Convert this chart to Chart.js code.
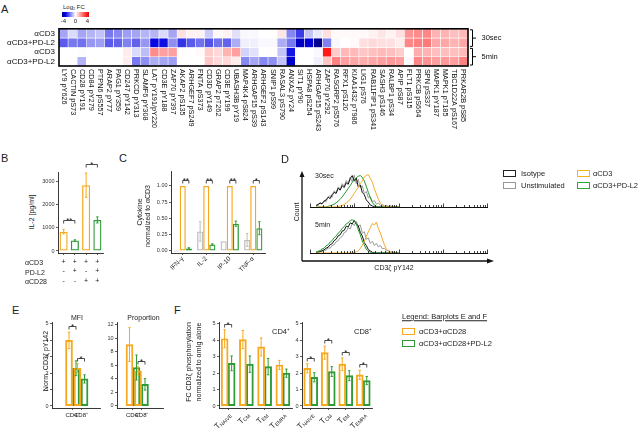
<!DOCTYPE html>
<html>
<head>
<meta charset="utf-8">
<script src="https://cdn.jsdelivr.net/npm/chart.js@4.4.1/dist/chart.umd.min.js"></script>
<style>
  html, body { margin: 0; padding: 0; background: #fff; }
  #fig { position: relative; width: 640px; height: 429px; overflow: hidden; font-family: "Liberation Sans", Arial, sans-serif; color: #222; }
  #fig canvas { position: absolute; }
  .t { position: absolute; white-space: nowrap; line-height: 1; }
  .t sub { font-size: 65%; vertical-align: -1px; line-height: 0; }
  .sw { position: absolute; width: 13px; height: 7px; box-sizing: border-box; border: 1.5px solid; }
  .cbar { position: absolute; left: 62px; top: 12px; width: 27px; height: 5px;
          background: linear-gradient(to right, #000096 0%, #0000e6 12%, #ffffff 50%, #ff3030 88%, #e00000 100%); }
</style>
</head>
<body>
<div id="fig"></div>
<script>
// ---------- data ----------
// A: heatmap, log2 fold change
const hmRows = ['αCD3', 'αCD3+PD-L2', 'αCD3', 'αCD3+PD-L2'];
const hmTimes = ['30sec', '5min'];
const hmCols = ['LY9 pY626', 'CACTIN pS73', 'CD28 pY191', 'CD84 pY279', 'PTPN6 pS557', 'ARAP2 pY77', 'PAG1 pY359',
  'CD247 pY142', 'PRKCD pY313', 'SLAMF6 pY308', 'LAT pY191/pY220', 'CD3E pY188', 'ZAP70 pY397', 'AKAP2 pS135',
  'ARHGEF7 pS249', 'FNTA pS373', 'CD3D pY149', 'GRAP2 pT262', 'CD3E pY199', 'UBASH3B pY19', 'MAP4K4 pS824',
  'ARHGAP15 pS39', 'ARHGEF2 pS143', 'SNIP1 pS99', 'RASAL3 pS790', 'ANXA2 pY24', 'SIT1 pY90', 'HSPA8 pS254',
  'ARHGAP15 pS243', 'ZAP70 pY292', 'RASGRP2 pS576', 'RFX1 pS120', 'KIAA1432 pT986', 'LIG1 pS76',
  'RAB11FIP1 pS341', 'SASH3 pS146', 'RALBP1 pS34', 'APIP pS87', 'FLT1 pS315', 'PRKCB pS664', 'SPN pS337',
  'MAPK1 pY187', 'MAPK1 pT185', 'TBC1D22A pS167', 'PRKAR2B pS85'];
const fcCD3_30s = [-1.2, -0.5, -1.2, -1.0, -0.8, -1.8, -1.6, -1.3, -1.2, -1.0, -1.0, -0.5, -1.2, 0.5, 0.2, 0.2, -0.7, 0.1, 0.2, -0.4,
  -0.1, -0.1, 0, 0, 0.4, -1.6, -2.6, -0.8, -0.3, 0.5, 0.1, 0.1, 0.1, 0.1, 0.2, 0.4, 0.2, 0.5, 1.7, 1.8, 1.9, 1.2, 1.2, 1.0, 1.1];
const fcPDL2_30s = [-2.2, -1.8, -1.9, -1.4, -1.3, -2.2, -2.1, -1.7, -2.1, -1.4, -3.3, -3.2, -1.5, -2.7, -2.2, -1.9, -2.3, -1.9, -2.1, -1.1,
  -0.2, -0.2, -0.1, -0.1, -1.1, -1.8, -3.7, -3.5, -4.2, -1.7, -0.1, 0, 0.1, 0.5, 0.6, 0.5, 0.5, 0.3, 1.9, 2.0, 2.1, 1.4, 1.4, 1.2, 1.4];
const fcCD3_5m = [0, 0, 0.05, 0, 0, 0, 0, 0.3, -0.5, -0.9, 1.8, 1.5, 1.5, 0.05, 0, 0.1, 0.8, 0.6, 1.2, 1.5,
  -0.6, -0.4, 0, 0.05, -0.8, -3.1, 0, 0, -0.1, 3.6, 0.8, 1.1, 1.1, 0.9, 1.0, 1.1, 1.0, 0.8, 0, 1.3, 1.2, 1.0, 1.0, 1.0, 1.1];
const fcPDL2_5m = [0, 0, -1.0, 0, 0, 0, 0, 0.3, -1.8, -1.5, -1.1, -1.2, -1.3, 0, 0, 0, 0.9, 0.6, 0.6, 0.3,
  -1.6, -1.2, -1.6, -1.5, -0.8, -3.6, 0, 0, -0.2, 0.9, 2.0, 1.5, 1.4, 1.3, 1.4, 1.5, 1.6, 1.5, -0.1, 1.9, 1.7, 1.5, 1.6, 1.5, 2.0];
const hmFC = [fcCD3_30s, fcPDL2_30s, fcCD3_5m, fcPDL2_5m];

// B: IL-2 secretion
const il2Conds = [['+', '-', '-'], ['+', '+', '-'], ['+', '-', '+'], ['+', '+', '+']];
const il2Mean = [830, 450, 2820, 1330];
const il2Err = [100, 30, 520, 130];
const il2Ticks = [0, 1000, 2000, 3000];
const il2Sig = [[0, 0, 0, 1, '**'], [0, 2, 0, 3, '*']];

// C: cytokines normalized to aCD3
const cytoCats = ['IFN-γ', 'IL-2', 'IP-10', 'TNF-α'];
const cytoUnstim = [0, 0.30, 0.15, 0.17];
const cytoUnstimErr = [0, 0.15, 0, 0.10];
const cytoCD3 = [1, 1, 1, 1];
const cytoCD3Err = [0, 0, 0, 0];
const cytoPDL2 = [0.04, 0.10, 0.42, 0.35];
const cytoPDL2Err = [0.01, 0.01, 0.04, 0.10];
const cytoTicks = [0, 0.25, 0.5, 0.75, 1.0];
const cytoSig = [[1, 0, 2, 0, '**'], [1, 1, 2, 1, '**'], [1, 2, 2, 2, '**'], [1, 3, 2, 3, '*']];

// D: histograms (x = CD3z pY142 intensity, y = % of max)
const dX = [1.37, 1.52, 1.69, 1.87, 2.08, 2.31, 2.57, 2.85, 3.16, 3.51, 3.90, 4.33, 4.81, 5.34, 5.93, 6.58, 7.31, 8.11, 9.01, 10.0,
  11.1, 12.3, 13.7, 15.2, 16.9, 18.7, 20.8, 23.1, 25.7, 28.5, 31.6, 35.1, 39.0, 43.3, 48.1, 53.4, 59.3, 65.8, 73.1, 81.1, 90.1, 100];
const iso30 = [5, 8, 12, 10, 18, 22, 30, 26, 38, 45, 42, 58, 52, 66, 60, 75, 70, 88, 97, 80,
  90, 62, 68, 45, 38, 22, 15, 6, 3, 1, 0, 0, 0, 0, 0, 0, 0, 0, 0, 0, 0, 0];
const unst30 = [6, 4, 14, 9, 20, 16, 32, 35, 30, 50, 44, 62, 55, 72, 64, 82, 74, 92, 78, 98,
  72, 85, 60, 66, 42, 48, 28, 32, 16, 20, 9, 12, 5, 8, 3, 5, 2, 4, 1, 2, 0, 0];
const cd3_30 = [0, 0, 0, 0, 0, 0, 0, 0, 0, 0, 0, 1, 3, 5, 8, 12, 17, 24, 32, 42,
  52, 60, 74, 80, 93, 97, 100, 88, 76, 56, 40, 24, 12, 5, 2, 0, 0, 0, 0, 0, 0, 0];
const pdl2_30 = [0, 0, 0, 0, 0, 0, 2, 4, 6, 9, 13, 18, 24, 31, 40, 48, 58, 66, 76, 84,
  90, 95, 97, 92, 80, 64, 45, 28, 14, 6, 2, 0, 0, 0, 0, 0, 0, 0, 0, 0, 0, 0];
const iso5 = [1, 3, 4, 7, 9, 14, 17, 24, 27, 36, 40, 50, 53, 64, 66, 78, 76, 88, 85, 95,
  84, 80, 60, 50, 30, 22, 10, 6, 2, 1, 0, 0, 0, 0, 0, 0, 0, 0, 0, 0, 0, 0];
const unst5 = [2, 1, 5, 4, 9, 8, 15, 14, 22, 24, 33, 36, 45, 48, 60, 62, 74, 70, 86, 80,
  92, 78, 82, 58, 62, 40, 44, 28, 34, 22, 28, 18, 22, 12, 14, 6, 8, 3, 4, 1, 0, 0];
const cd3_5 = [0, 0, 0, 0, 0, 0, 0, 0, 0, 0, 0, 0, 0, 0, 0, 0, 0, 0, 0, 1,
  3, 7, 13, 22, 34, 48, 62, 74, 86, 82, 90, 72, 58, 40, 24, 12, 5, 2, 0, 0, 0, 0];
const pdl2_5 = [3, 5, 7, 12, 14, 21, 24, 32, 36, 45, 49, 58, 63, 72, 77, 85, 88, 95, 97, 94,
  87, 68, 53, 35, 23, 11, 6, 2, 0, 0, 0, 0, 0, 0, 0, 0, 0, 0, 0, 0, 0, 0];

// E: CD3z pY142, normalized
const cellCats = ['CD4⁺', 'CD8⁺'];
const mfiCD28 = [4.0, 2.3], mfiCD28Err = [0.5, 0.28];
const mfiPDL2 = [2.3, 1.65], mfiPDL2Err = [0.45, 0.25];
const propCD28 = [9.1, 5.2], propCD28Err = [2.5, 0.6];
const propPDL2 = [5.7, 3.2], propPDL2Err = [1.85, 0.85];
const fcTicks = [0, 1, 2, 3, 4, 5];
const propTicks = [0, 2, 4, 6, 8, 10, 12];
const mfiSig = [[0, 0, 1, 0, '*'], [0, 1, 1, 1, '*']];
const propSig = [[0, 1, 1, 1, '*']];

// F: T cell subsets
const fSubsets = ['NAIVE', 'CM', 'EM', 'EMRA'];
const f4CD28 = [4.1, 4.05, 3.6, 2.5], f4CD28Err = [0.55, 0.55, 0.55, 0.28];
const f4PDL2 = [2.6, 2.55, 2.4, 2.0], f4PDL2Err = [0.45, 0.5, 0.5, 0.25];
const f8CD28 = [2.3, 3.25, 2.55, 1.9], f8CD28Err = [0.28, 0.4, 0.38, 0.28];
const f8PDL2 = [1.75, 2.1, 1.85, 1.55], f8PDL2Err = [0.28, 0.3, 0.3, 0.25];
const f4Sig = [[0, 0, 1, 0, '*']];
const f8Sig = [[0, 0, 1, 0, '*'], [0, 1, 1, 1, '*'], [0, 2, 1, 2, '*'], [0, 3, 1, 3, '*']];

// ---------- style ----------
const FONT = '"Liberation Sans", Arial, sans-serif';
const ORANGE = '#F6A81F', GREEN = '#2E9B38', GREY = '#BEBEBE';
const NOFILL = 'rgba(255,255,255,0)';

Chart.defaults.font.family = FONT;
Chart.defaults.font.size = 5.5;
Chart.defaults.color = '#333';
Chart.defaults.animation = false;
Chart.defaults.responsive = false;
Chart.defaults.events = [];
Chart.defaults.plugins.legend.display = false;
Chart.defaults.plugins.tooltip.enabled = false;

const fig = document.getElementById('fig');

function addCanvas(x, y, w, h) {
  const c = document.createElement('canvas');
  c.width = w; c.height = h;
  c.style.left = x + 'px'; c.style.top = y + 'px';
  fig.appendChild(c);
  return c;
}

function txt(html, x, y, size, align, rot) {
  const d = document.createElement('div');
  d.className = 't';
  d.innerHTML = html;
  d.style.left = x + 'px'; d.style.top = y + 'px';
  d.style.fontSize = size + 'px';
  const ax = { l: '0', c: '-50%', r: '-100%' }[align || 'l'];
  d.style.transform = 'translate(' + ax + ',-50%)' + (rot ? ' rotate(' + rot + 'deg)' : '');
  fig.appendChild(d);
  return d;
}

function swatch(x, y, color) {
  const d = document.createElement('div');
  d.className = 'sw';
  d.style.left = x + 'px'; d.style.top = y + 'px';
  d.style.borderColor = color;
  fig.appendChild(d);
}

function fcColor(v) {
  if (v < 0) {
    const t = Math.min(1, -v / 3.4);
    const c = Math.round(255 * (1 - t));
    const b = v < -3.4 ? Math.round(225 - (Math.min(4.5, -v) - 3.4) * 100) : 255 - Math.round(30 * t);
    return 'rgb(' + c + ',' + c + ',' + b + ')';
  }
  const c = Math.round(255 * (1 - Math.min(1, v / 4)));
  return 'rgb(255,' + c + ',' + c + ')';
}

function yAxis(min, max, ticks, w, fmt) {
  return {
    type: 'linear', min: min, max: max,
    afterBuildTicks: s => { s.ticks = ticks.map(v => ({ value: v })); },
    afterFit: s => { s.width = w; },
    grid: { drawOnChartArea: false, tickLength: 2, color: '#333', lineWidth: 0.8 },
    border: { color: '#222', width: 0.9 },
    ticks: { padding: 1.5, color: '#333', callback: fmt || (v => String(v)) }
  };
}

function xAxis(h, extra) {
  return Object.assign({
    afterFit: s => { s.height = h; },
    grid: { drawOnChartArea: false, offset: false, tickLength: 2, color: '#333', lineWidth: 0.8 },
    border: { color: '#222', width: 0.9 }
  }, extra);
}

// canvas placed so that the plot area lands on box (page coordinates)
function panel(box, yW, xH, padT, padR, cfg) {
  const cv = addCanvas(box.l - yW, box.t - padT, box.r - box.l + yW + padR, box.b - box.t + padT + xH);
  cfg.options.devicePixelRatio = 1;
  cfg.options.layout = { padding: { left: 0, top: padT, right: padR, bottom: 0 } };
  return new Chart(cv, cfg);
}

function xy(arr) { return arr.map((v, i) => ({ x: i + 1, y: v })); }
function pts(arr) { return arr.map((v, i) => ({ x: dX[i], y: v })); }

const barStyle = { borderWidth: 1.3, borderSkipped: false, backgroundColor: NOFILL };

// ---------- plugins ----------
const errBars = {
  id: 'errBars',
  afterDatasetsDraw(chart) {
    const ctx = chart.ctx, ys = chart.scales.y;
    ctx.save(); ctx.lineWidth = 1;
    chart.data.datasets.forEach((ds, d) => {
      if (!ds.errs) return;
      const meta = chart.getDatasetMeta(d);
      meta.data.forEach((bar, i) => {
        const e = ds.errs[i]; if (!e) return;
        const v = meta.controller.getParsed(i).y;
        const top = ys.getPixelForValue(v + e), bot = ys.getPixelForValue(v - e);
        ctx.strokeStyle = Array.isArray(ds.borderColor) ? ds.borderColor[i] : ds.borderColor;
        ctx.beginPath();
        ctx.moveTo(bar.x, top); ctx.lineTo(bar.x, bot);
        ctx.moveTo(bar.x - 1.2, top); ctx.lineTo(bar.x + 1.2, top);
        ctx.moveTo(bar.x - 1.2, bot); ctx.lineTo(bar.x + 1.2, bot);
        ctx.stroke();
      });
    });
    ctx.restore();
  }
};

function sigBars(pairs, gap) {
  return {
    id: 'sigBars',
    afterDatasetsDraw(chart) {
      const ctx = chart.ctx, ys = chart.scales.y;
      ctx.save();
      ctx.strokeStyle = '#222'; ctx.fillStyle = '#222'; ctx.lineWidth = 0.8;
      ctx.font = '8px ' + FONT; ctx.textAlign = 'center'; ctx.textBaseline = 'alphabetic';
      pairs.forEach(([da, ia, db, ib, label]) => {
        const ends = [[da, ia], [db, ib]].map(([d, i]) => {
          const ds = chart.data.datasets[d], meta = chart.getDatasetMeta(d);
          const v = meta.controller.getParsed(i).y + ((ds.errs || [])[i] || 0);
          return { x: meta.data[i].x, y: ys.getPixelForValue(v) };
        });
        const y = Math.round(Math.min(ends[0].y, ends[1].y) - gap) + 0.5;
        ctx.beginPath();
        ctx.moveTo(ends[0].x, y + 3); ctx.lineTo(ends[0].x, y); ctx.lineTo(ends[1].x, y); ctx.lineTo(ends[1].x, y + 3);
        ctx.stroke();
        ctx.fillText(label, (ends[0].x + ends[1].x) / 2, y + 2.5);
      });
      ctx.restore();
    }
  };
}

const heatDecor = {
  id: 'heatDecor',
  afterDraw(chart) {
    const ctx = chart.ctx, a = chart.chartArea, xs = chart.scales.x, ys = chart.scales.y;
    ctx.save();
    ctx.strokeStyle = '#000'; ctx.lineWidth = 1.6;
    ctx.strokeRect(a.left, a.top, a.right - a.left, a.bottom - a.top);
    ctx.fillStyle = '#111'; ctx.font = '7.3px ' + FONT; ctx.textAlign = 'left'; ctx.textBaseline = 'middle';
    hmCols.forEach((lab, i) => {
      ctx.save();
      ctx.translate(xs.getPixelForValue(i), a.bottom + 3);
      ctx.rotate(Math.PI / 2);
      ctx.fillText(lab, 0, 0);
      ctx.restore();
    });
    ctx.lineWidth = 1; ctx.font = '7.5px ' + FONT;
    hmTimes.forEach((lab, k) => {
      const y1 = ys.getPixelForValue(2 * k) + 1, y2 = ys.getPixelForValue(2 * k + 2) - 1;
      const x = a.right + 4.5, ym = (y1 + y2) / 2;
      ctx.beginPath();
      ctx.moveTo(x - 2.5, y1); ctx.lineTo(x, y1); ctx.lineTo(x, y2); ctx.lineTo(x - 2.5, y2);
      ctx.moveTo(x, ym); ctx.lineTo(x + 3.5, ym);
      ctx.stroke();
      ctx.fillText(lab, x + 9, ym);
    });
    ctx.restore();
  }
};

const logTicks = {
  id: 'logTicks',
  afterDraw(chart) {
    const ctx = chart.ctx, a = chart.chartArea, xs = chart.scales.x;
    ctx.save(); ctx.strokeStyle = '#111'; ctx.lineWidth = 0.8;
    ctx.beginPath();
    xs.ticks.forEach(t => {
      const px = Math.round(xs.getPixelForValue(t.value)) + 0.5;
      const major = Math.abs(Math.log10(t.value) - Math.round(Math.log10(t.value))) < 1e-9;
      ctx.moveTo(px, a.bottom); ctx.lineTo(px, a.bottom - (major ? 3.5 : 2));
    });
    ctx.stroke(); ctx.restore();
  }
};

const histArrows = {
  id: 'histArrows',
  afterDraw(chart) {
    const ctx = chart.ctx;
    ctx.save(); ctx.strokeStyle = '#111'; ctx.fillStyle = '#111'; ctx.lineWidth = 1.3;
    ctx.beginPath(); ctx.moveTo(12, 101); ctx.lineTo(12, 16); ctx.moveTo(12, 101); ctx.lineTo(198, 101); ctx.stroke();
    ctx.beginPath(); ctx.moveTo(12, 11); ctx.lineTo(9.5, 17); ctx.lineTo(14.5, 17); ctx.closePath(); ctx.fill();
    ctx.beginPath(); ctx.moveTo(204, 101); ctx.lineTo(197, 98.5); ctx.lineTo(197, 103.5); ctx.closePath(); ctx.fill();
    ctx.restore();
  }
};

function subLabels(subs) {
  return {
    id: 'subLabels',
    afterDraw(chart) {
      const ctx = chart.ctx, xs = chart.scales.x, y0 = chart.chartArea.bottom + 6;
      ctx.save(); ctx.fillStyle = '#222'; ctx.textAlign = 'right'; ctx.textBaseline = 'middle';
      subs.forEach((sub, i) => {
        ctx.save();
        ctx.translate(xs.getPixelForValue(i) + 2, y0);
        ctx.rotate(-Math.PI / 4);
        ctx.font = '5px ' + FONT;
        const sw = ctx.measureText(sub).width;
        ctx.fillText(sub, 0, 1.8);
        ctx.font = '8px ' + FONT;
        ctx.fillText('T', -sw, 0);
        ctx.restore();
      });
      ctx.restore();
    }
  };
}

// ---------- A: heatmap ----------
new Chart(addCanvas(0, 20, 530, 122), {
  type: 'bar',
  data: {
    labels: hmCols,
    datasets: hmFC.map((row, r) => ({
      data: row.map(() => [r, r + 1]),
      backgroundColor: row.map(fcColor),
      borderColor: '#fff', borderWidth: 0.6, borderSkipped: false,
      grouped: false, categoryPercentage: 1, barPercentage: 1
    }))
  },
  options: {
    devicePixelRatio: 1,
    layout: { padding: { left: 0, top: 8, right: 62, bottom: 0 } },
    scales: {
      x: { offset: true, afterFit: s => { s.height = 76; }, ticks: { display: false },
           grid: { display: false, drawTicks: false }, border: { display: false } },
      y: { display: false, min: 0, max: 4, reverse: true },
      rows: { type: 'category', labels: hmRows, position: 'left', offset: true,
              afterFit: s => { s.width = 59; }, grid: { display: false, drawTicks: false }, border: { display: false },
              ticks: { font: { size: 8 }, color: '#111', padding: 4, autoSkip: false } }
    }
  },
  plugins: [heatDecor]
});

// ---------- B ----------
panel({ l: 58, t: 172, r: 103, b: 253 }, 22, 36, 16, 4, {
  type: 'bar',
  data: { labels: il2Conds, datasets: [Object.assign({ data: il2Mean, errs: il2Err,
    borderColor: [ORANGE, GREEN, ORANGE, GREEN], categoryPercentage: 0.72, barPercentage: 1 }, barStyle)] },
  options: { scales: {
    x: xAxis(36, { type: 'category', offset: true,
      ticks: { font: { size: 7, lineHeight: 1.35 }, color: '#222', padding: 2, maxRotation: 0, autoSkip: false } }),
    y: yAxis(-86, 3386, il2Ticks, 22)
  } },
  plugins: [errBars, sigBars(il2Sig, 9)]
});

// ---------- C ----------
panel({ l: 171, t: 171, r: 265, b: 253 }, 28, 28, 12, 4, {
  type: 'bar',
  data: { labels: cytoCats, datasets: [
    Object.assign({ data: cytoUnstim, errs: cytoUnstimErr, borderColor: GREY, minBarLength: 1 }, barStyle),
    Object.assign({ data: cytoCD3, errs: cytoCD3Err, borderColor: ORANGE }, barStyle),
    Object.assign({ data: cytoPDL2, errs: cytoPDL2Err, borderColor: GREEN }, barStyle)
  ] },
  options: {
    datasets: { bar: { categoryPercentage: 0.78, barPercentage: 1 } },
    scales: {
      x: xAxis(28, { type: 'category', offset: true,
        ticks: { font: { size: 6.5 }, color: '#222', padding: 0, minRotation: 45, maxRotation: 45, autoSkip: false } }),
      y: yAxis(-0.031, 1.23, cytoTicks, 28, v => v.toFixed(2))
    }
  },
  plugins: [errBars, sigBars(cytoSig, 6)]
});

// ---------- D: histograms ----------
function logX(h) {
  return {
    type: 'logarithmic', min: 1, max: 10000,
    afterFit: s => { s.height = h; },
    afterBuildTicks: s => {
      s.ticks = s.ticks.filter(t => {
        const m = t.value / Math.pow(10, Math.floor(Math.log10(t.value) + 1e-9));
        return Math.abs(m - Math.round(m)) < 1e-6;
      });
    },
    ticks: { display: false }, grid: { display: false, drawTicks: false },
    border: { display: true, color: '#111', width: 1 }
  };
}
function histSets(cd3, pdl2, iso, unst) {
  const line = { borderWidth: 1, pointRadius: 0, tension: 0, fill: false };
  return [
    Object.assign({ data: pts(cd3), borderColor: ORANGE }, line),
    Object.assign({ data: pts(pdl2), borderColor: '#1F9A2A' }, line),
    Object.assign({ data: pts(iso), borderColor: '#111' }, line),
    Object.assign({ data: pts(unst), borderColor: '#9A9A9A' }, line)
  ];
}
new Chart(addCanvas(290, 160, 210, 110), {
  type: 'line',
  data: { datasets: histSets(cd3_5, pdl2_5, iso5, unst5) },
  options: {
    devicePixelRatio: 1,
    layout: { padding: { left: 20, top: 56, right: 13, bottom: 0 } },
    scales: { x: logX(17), y: { display: false, min: 0, max: 108 } }
  },
  plugins: [logTicks, histArrows]
});
new Chart(addCanvas(306, 168, 190, 41), {
  type: 'line',
  data: { datasets: histSets(cd3_30, pdl2_30, iso30, unst30) },
  options: {
    devicePixelRatio: 1,
    layout: { padding: { left: 4, top: 5, right: 9, bottom: 0 } },
    scales: { x: logX(2), y: { display: false, min: 0, max: 105 } }
  },
  plugins: [logTicks]
});

// ---------- E ----------
function cellX(min, max) {
  return xAxis(17, { type: 'linear', min: min, max: max,
    afterBuildTicks: s => { s.ticks = cellCats.map((c, i) => ({ value: i + 1 })); },
    ticks: { callback: (v, i) => cellCats[i], font: { size: 6 }, color: '#222', padding: 1.5, maxRotation: 0, autoSkip: false } });
}
panel({ l: 52, t: 322, r: 100, b: 408 }, 12, 17, 8, 3, {
  type: 'bar',
  data: { datasets: [
    Object.assign({ data: xy(mfiCD28), errs: mfiCD28Err, borderColor: ORANGE }, barStyle),
    Object.assign({ data: xy(mfiPDL2), errs: mfiPDL2Err, borderColor: GREEN }, barStyle)
  ] },
  options: { datasets: { bar: { barThickness: 7 } },
    scales: { x: cellX(0, 2.82), y: yAxis(-0.122, 5.12, fcTicks, 12) } },
  plugins: [errBars, sigBars(mfiSig, 6)]
});
panel({ l: 117, t: 322, r: 163, b: 408 }, 13, 17, 8, 3, {
  type: 'bar',
  data: { datasets: [
    Object.assign({ data: xy(propCD28), errs: propCD28Err, borderColor: ORANGE }, barStyle),
    Object.assign({ data: xy(propPDL2), errs: propPDL2Err, borderColor: GREEN }, barStyle)
  ] },
  options: { datasets: { bar: { barThickness: 7 } },
    scales: { x: cellX(0.47, 3.18), y: yAxis(-0.3, 12.44, propTicks, 13) } },
  plugins: [errBars, sigBars(propSig, 6)]
});

// ---------- F ----------
function subsetPanel(box, yW, a, aErr, b, bErr, sig) {
  panel(box, yW, 30, 8, 3, {
    type: 'bar',
    data: { labels: fSubsets, datasets: [
      Object.assign({ data: a, errs: aErr, borderColor: ORANGE }, barStyle),
      Object.assign({ data: b, errs: bErr, borderColor: GREEN }, barStyle)
    ] },
    options: { datasets: { bar: { barThickness: 7 } },
      scales: { x: xAxis(30, { type: 'category', offset: true, ticks: { display: false } }),
                y: yAxis(-0.122, 5.12, fcTicks, yW) } },
    plugins: [errBars, sigBars(sig, 6), subLabels(fSubsets)]
  });
}
subsetPanel({ l: 219, t: 322, r: 292, b: 408 }, 12, f4CD28, f4CD28Err, f4PDL2, f4PDL2Err, f4Sig);
subsetPanel({ l: 302, t: 322, r: 372, b: 408 }, 11, f8CD28, f8CD28Err, f8PDL2, f8PDL2Err, f8Sig);

// ---------- texts & legends ----------
txt('A', 1, 9, 11);
txt('B', 1, 158, 11);
txt('C', 119, 158, 11);
txt('D', 281, 159, 11);
txt('E', 12, 310, 11);
txt('F', 174, 310, 11);

// A colour key
const cb = document.createElement('div'); cb.className = 'cbar'; fig.appendChild(cb);
txt('Log<sub>2</sub> FC', 63, 7, 6);
txt('-4', 63.5, 20.8, 6, 'c');
txt('0', 75.5, 20.8, 6, 'c');
txt('4', 87.5, 20.8, 6, 'c');

// B
txt('IL-2 [pg/ml]', 31, 212, 7, 'c', -90);
txt('αCD3', 25, 262, 7);
txt('PD-L2', 25, 271.5, 7);
txt('αCD28', 25, 281, 7);

// C
txt('Cytokine', 138.5, 212, 7, 'c', -90);
txt('normalized to αCD3', 147, 216, 7, 'c', -90);

// D
txt('30sec', 315, 174.5, 7);
txt('5min', 315, 223.5, 7);
txt('Count', 295.5, 212, 7, 'c', -90);
txt('CD3ζ pY142', 394, 267, 7, 'c');
swatch(503, 170, '#222'); txt('Isotype', 521, 173.5, 7.5);
swatch(503, 182, '#9A9A9A'); txt('Unstimulated', 521, 185.5, 7.5);
swatch(577, 170, '#F5B21C'); txt('αCD3', 593, 173.5, 7.5);
swatch(577, 182, '#2EA83A'); txt('αCD3+PD-L2', 593, 185.5, 7.5);

// E
txt('MFI', 77, 317, 7, 'c');
txt('Proportion', 143.5, 317, 7, 'c');
txt('Norm. CD3ζ pY142', 45, 361, 7, 'c', -90);

// F
txt('FC CD3ζ phosphorylation', 188, 362, 7, 'c', -90);
txt('normalized to αmIg alone', 198, 362, 7, 'c', -90);
txt('CD4⁺', 281, 332, 7.5, 'c');
txt('CD8⁺', 363, 332, 7.5, 'c');

// legend for E and F
txt('<u>Legend: Barplots E and F</u>', 402, 317, 7.5);
swatch(402, 328, ORANGE); txt('αCD3+αCD28', 419, 331.5, 7.5);
swatch(402, 340, GREEN); txt('αCD3+αCD28+PD-L2', 419, 343.5, 7.5);
</script>
</body>
</html>
